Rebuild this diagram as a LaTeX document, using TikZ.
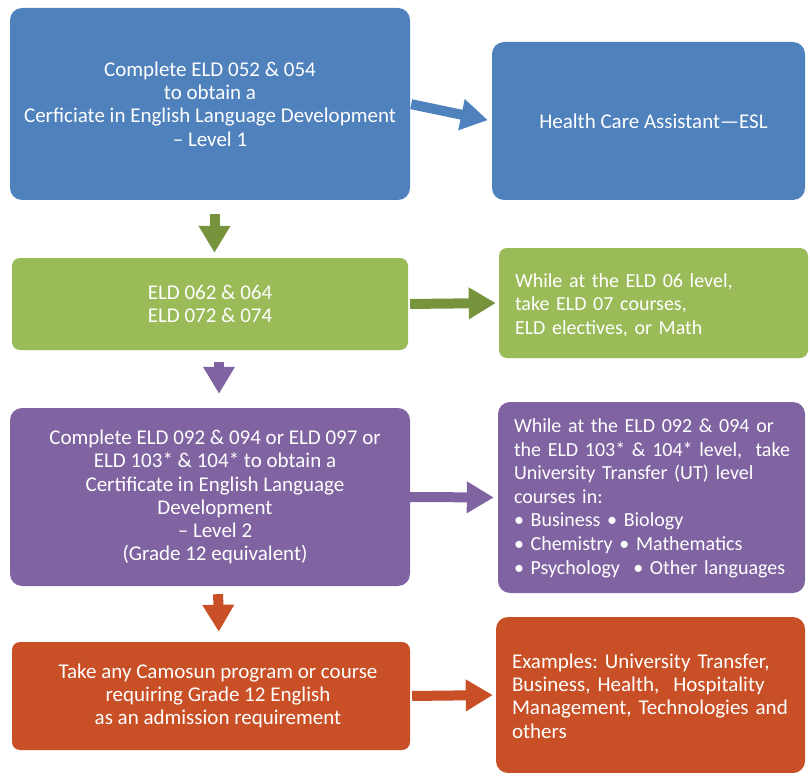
\documentclass[tikz,border=0pt]{standalone}
\usepackage{fontspec}
\setmainfont{Carlito}
\frenchspacing
\usetikzlibrary{arrows.meta}

\definecolor{eldblue}{RGB}{79,129,189}
\definecolor{eldgreen}{RGB}{155,187,89}
\definecolor{eldgreendark}{RGB}{119,147,60}
\definecolor{eldpurple}{RGB}{128,100,162}
\definecolor{eldorange}{RGB}{201,79,38}

\tikzset{
  stage/.style={fill=#1, text=white, rounded corners=12pt, inner sep=0pt,
    align=center, font=\fontsize{21}{23.2}\selectfont},
  option/.style={fill=#1, text=white, rounded corners=12pt, inner xsep=16pt,
    inner ysep=0pt, align=left, font=\fontsize{21}{23.4}\selectfont},
  flow/.style={draw=#1, line width=10pt, -{Triangle[length=27pt,width=30pt]}}
}

\begin{document}
\begin{tikzpicture}[x=1pt,y=-1pt]
\useasboundingbox (0,0) rectangle (809,773);

% left column
\node[stage=eldblue, minimum width=400pt, minimum height=192pt] (blueA) at (210,104)
  {Complete ELD 052 \& 054\\to obtain a\\Cerficiate in English Language Development\\– Level 1};
\node[stage=eldgreen, minimum width=396pt, minimum height=92pt, rounded corners=8pt] (greenA) at (210,304)
  {ELD 062 \& 064\\ELD 072 \& 074};
\node[stage=eldpurple, minimum width=400pt, minimum height=178pt] (purpleA) at (210,497)
  {\hspace*{10pt}Complete ELD 092 \& 094 or ELD 097 or\\\hspace*{10pt}ELD 103* \& 104* to obtain a\\\hspace*{10pt}Certificate in English Language\\\hspace*{10pt}Development\\\hspace*{10pt}– Level 2\\\hspace*{10pt}(Grade 12 equivalent)};
\node[stage=eldorange, minimum width=398pt, minimum height=108pt, rounded corners=8pt] (orangeA) at (211,696)
  {\hspace*{14pt}Take any Camosun program or course\\\hspace*{14pt}requiring Grade 12 English\\\hspace*{14pt}as an admission requirement};

% right column
\node[stage=eldblue, minimum width=313pt, minimum height=158pt] (blueB) at (648.5,121)
  {\hspace*{10pt}Health Care Assistant—ESL};
\node[option=eldgreen, text width=277pt, minimum height=110pt, rounded corners=8pt,
      font=\fontsize{20}{23.4}\selectfont] (greenB) at (653.5,303)
  {\raisebox{-3pt}[\height][\depth]{\begin{tabular}{@{}l@{}}While at the ELD 06 level,\\take ELD 07 courses,\\ELD electives, or Math\end{tabular}}};
\node[option=eldpurple, text width=275pt, minimum height=191pt,
      font=\fontsize{20}{23.6}\selectfont] (purpleB) at (651.5,497.5)
  {\raisebox{-1pt}[\height][\depth]{\begin{tabular}{@{}l@{}}While at the ELD 092 \& 094 or\\the ELD 103* \& 104* level,\ \ take\\University Transfer (UT) level\\courses in:\\• Business • Biology\\• Chemistry • Mathematics\\• Psychology\ \ • Other languages\end{tabular}}};
\node[option=eldorange, text width=277pt, minimum height=156pt] (orangeB) at (650.5,695)
  {\raisebox{-3.5pt}[\height][\depth]{\begin{tabular}{@{}l@{}}Examples: University Transfer,\\Business, Health,\ \ Hospitality\\Management, Technologies and\\others\end{tabular}}};

% down arrows
\draw[flow=eldgreendark, shorten <=14pt, shorten >=5pt]
  ([xshift=4.5pt]blueA.south) -- ([xshift=4.5pt]greenA.north);
\draw[flow=eldpurple, shorten <=12pt, shorten >=14pt]
  ([xshift=9pt]greenA.south) -- ([xshift=9pt]purpleA.north);
\draw[flow=eldorange, shorten <=8pt, shorten >=10pt]
  ([xshift=8pt]purpleA.south) -- ([xshift=8pt]orangeA.north);

% side arrows
\draw[flow=eldblue, shorten <=1pt, shorten >=4pt] (blueA.east) -- (blueB.west);
\draw[flow=eldgreendark, shorten <=2pt, shorten >=3pt] (greenA.east) -- (greenB.west);
\draw[flow=eldpurple, shorten <=0pt, shorten >=4pt] (purpleA.east) -- (purpleB.west);
\draw[flow=eldorange, shorten <=2pt, shorten >=3pt] (orangeA.east) -- (orangeB.west);
\end{tikzpicture}
\end{document}
